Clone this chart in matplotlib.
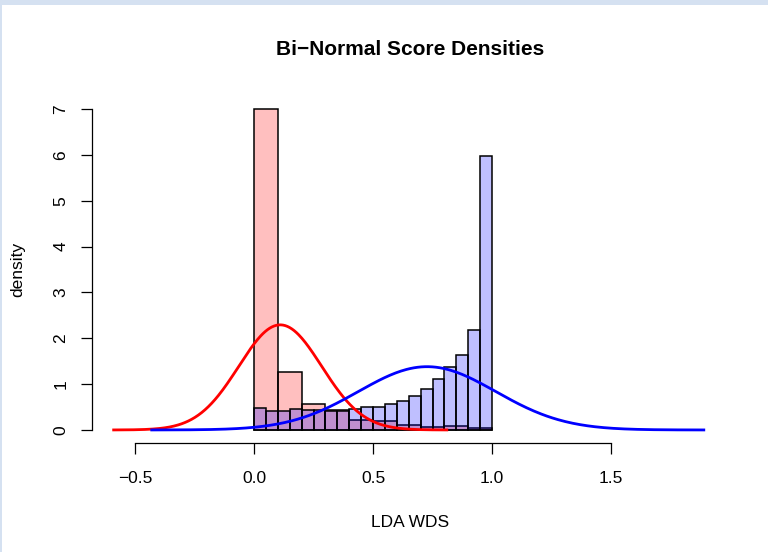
import numpy as np
import matplotlib
matplotlib.use("Agg")
import matplotlib.pyplot as plt
from matplotlib.patches import Rectangle

# --- data ---
red_edges = [0.0, 0.1, 0.2, 0.3, 0.4, 0.5, 0.6, 0.7, 0.8, 0.9, 1.0]
red_density = [7.0, 1.27, 0.56, 0.43, 0.22, 0.20, 0.11, 0.07, 0.08, 0.05]

blue_edges = [0.0, 0.05, 0.1, 0.15, 0.2, 0.25, 0.3, 0.35, 0.4, 0.45, 0.5,
              0.55, 0.6, 0.65, 0.7, 0.75, 0.8, 0.85, 0.9, 0.95, 1.0]
blue_density = [0.47, 0.42, 0.42, 0.45, 0.44, 0.44, 0.41, 0.41, 0.46, 0.49,
                0.51, 0.57, 0.64, 0.75, 0.89, 1.12, 1.37, 1.64, 2.17, 5.97]

# fitted normal curves (mean, sd, plotted range)
red_mean, red_sd = 0.11, 0.174
red_range = (-0.59, 0.81)
blue_mean, blue_sd = 0.727, 0.289
blue_range = (-0.43, 1.89)

x_ticks = [-0.5, 0.0, 0.5, 1.0, 1.5]
x_ticklabels = ["\u22120.5", "0.0", "0.5", "1.0", "1.5"]
y_ticks = [0, 1, 2, 3, 4, 5, 6, 7]


def normal_pdf(x, mu, sd):
    return np.exp(-0.5 * ((x - mu) / sd) ** 2) / (sd * np.sqrt(2 * np.pi))


plt.rcParams['font.family'] = ['Liberation Sans', 'DejaVu Sans']

fig = plt.figure(figsize=(7.68, 5.52), dpi=100)
fig.patch.set_facecolor("white")

# light blue frame on top and left edge
fig.add_artist(Rectangle((0, 1 - 5 / 552), 1, 5 / 552, transform=fig.transFigure,
                         facecolor="#d5e1f1", edgecolor="none"))
fig.add_artist(Rectangle((0, 0), 2 / 768, 1, transform=fig.transFigure,
                         facecolor="#d5e1f1", edgecolor="none"))

ax = fig.add_axes([92 / 768, (552 - 442.8) / 552, (727.6 - 92) / 768, (442.8 - 96.2) / 552])

# histograms
ax.bar(red_edges[:-1], red_density, width=np.diff(red_edges), align="edge",
       color=(1, 0, 0, 0.25), edgecolor="black", linewidth=1.1)
ax.bar(blue_edges[:-1], blue_density, width=np.diff(blue_edges), align="edge",
       color=(0, 0, 1, 0.25), edgecolor="black", linewidth=1.1)

# normal curves
xr = np.linspace(red_range[0], red_range[1], 300)
ax.plot(xr, normal_pdf(xr, red_mean, red_sd), color="red", linewidth=2.0)
xb = np.linspace(blue_range[0], blue_range[1], 300)
ax.plot(xb, normal_pdf(xb, blue_mean, blue_sd), color="blue", linewidth=2.0)

ax.set_xlim(-0.681, 1.99)
ax.set_ylim(-0.28, 7.28)

for s in ["top", "right"]:
    ax.spines[s].set_visible(False)
ax.spines["bottom"].set_bounds(-0.5, 1.5)
ax.spines["left"].set_bounds(0, 7)
ax.spines["bottom"].set_linewidth(0.9)
ax.spines["left"].set_linewidth(0.9)

ax.set_xticks(x_ticks)
ax.set_xticklabels(x_ticklabels)
ax.set_yticks(y_ticks)
ax.set_yticklabels([str(v) for v in y_ticks], rotation=90, va="center")
ax.tick_params(axis="both", length=8, width=0.9, labelsize=12.5)
ax.tick_params(axis="x", pad=12)
ax.tick_params(axis="y", pad=9)

ax.set_xlabel("LDA WDS", fontsize=12.5, labelpad=21)
ax.set_ylabel("density", fontsize=12.5, labelpad=20)
fig.text(0.5 * (92 + 727.6) / 768, 1 - 49 / 552, "Bi\u2212Normal Score Densities",
         ha="center", va="center", fontsize=15, fontweight="bold")

fig.savefig("out.png", dpi=100)
